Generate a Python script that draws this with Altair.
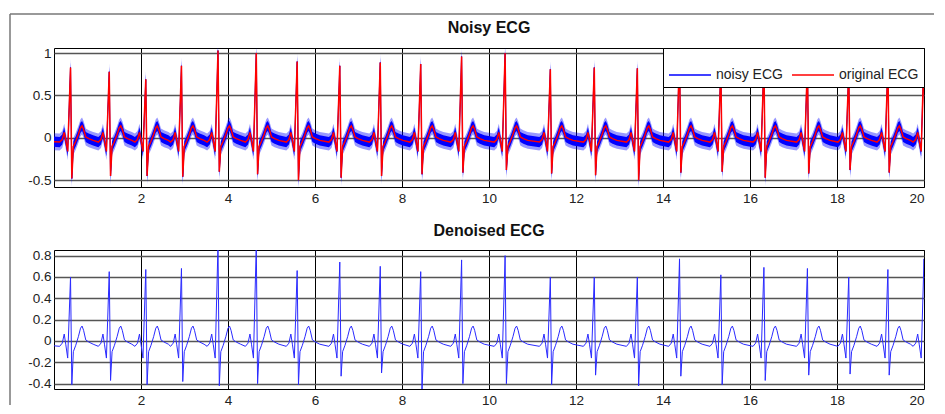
import altair as alt
import pandas as pd

# ---- values ----
beat_t = [0.38, 1.27, 2.11, 2.93, 3.77, 4.65, 5.59, 6.57, 7.50, 8.43, 9.37,
          10.37, 11.41, 12.42, 13.41, 14.38, 15.33, 16.32, 17.32, 18.27, 19.17, 20.0]
orig_R = [0.83, 0.78, 0.69, 0.85, 1.03, 1.00, 0.90, 0.85, 0.89, 0.87, 0.96,
          1.00, 0.81, 0.83, 0.82, 1.00, 0.82, 0.90, 0.88, 0.80, 0.88, 1.00]
orig_S = [-0.48, -0.45, -0.45, -0.46, -0.40, -0.43, -0.50, -0.47, -0.45, -0.43, -0.41,
          -0.38, -0.42, -0.44, -0.50, -0.41, -0.40, -0.47, -0.42, -0.38, -0.41, -0.40]
den_R = [0.60, 0.65, 0.67, 0.68, 0.90, 0.90, 0.66, 0.74, 0.70, 0.65, 0.76,
         0.80, 0.60, 0.60, 0.60, 0.77, 0.62, 0.69, 0.68, 0.60, 0.67, 0.77]
den_S = [-0.41, -0.37, -0.41, -0.38, -0.42, -0.40, -0.41, -0.33, -0.30, -0.46, -0.40,
         -0.40, -0.41, -0.32, -0.42, -0.33, -0.41, -0.37, -0.32, -0.31, -0.32, -0.30]

# one-beat shape (seconds from the R peak, value); "R"/"S" take the per-beat values
tpl_dt = [-0.25, -0.19, -0.145, -0.11, -0.065, 0.0, 0.03, 0.065, 0.12, 0.18,
          0.23, 0.265, 0.30, 0.35, 0.42, 0.52]
tpl_v = [-0.05, -0.02, 0.065, -0.03, -0.16, "R", "S", -0.10, -0.04, 0.04,
         0.12, 0.14, 0.10, 0.01, -0.01, -0.03]
lead_in = [(0.0, -0.045)]

noise_inner = 0.06
noise_outer = 0.10

x_ticks = [2, 4, 6, 8, 10, 12, 14, 16, 18, 20]
top_ticks = [-0.5, 0, 0.5, 1]
bot_ticks = [-0.4, -0.2, 0, 0.2, 0.4, 0.6, 0.8]
series_names = ["noisy ECG", "original ECG"]
series_colors = ["#0000ff", "#ff0000"]


def build(R, S):
    pts = list(lead_in)
    for bt, r, s in zip(beat_t, R, S):
        for dt, v in zip(tpl_dt, tpl_v):
            val = r if v == "R" else (s if v == "S" else v)
            pts.append((round(bt + dt, 4), val))
    return pd.DataFrame(pts, columns=["t", "v"])


orig = build(orig_R, orig_S)
orig["lo1"] = orig["v"] - noise_inner
orig["hi1"] = orig["v"] + noise_inner
orig["lo2"] = orig["v"] - noise_outer
orig["hi2"] = orig["v"] + noise_outer
noisy_line = orig.assign(series="noisy ECG")
orig_line = orig.assign(series="original ECG")
den = build(den_R, den_S)

FONT = "Liberation Sans"
minus_expr = "datum.value < 0 ? '-' + (-datum.value) : '' + datum.value"

xs = alt.Scale(domain=[0, 20], nice=False, zero=False)
xax = alt.Axis(values=x_ticks, title=None, grid=True, gridColor="#000000",
               gridWidth=1, ticks=False, labelPadding=4, domain=False,
               labelFontSize=13.5, labelFont=FONT, labelColor="#222")


def yax(vals):
    return alt.Axis(values=vals, title=None, grid=True, gridColor="#555555",
                    gridWidth=1.4, ticks=False, labelPadding=3, domain=False,
                    labelFontSize=13.5, labelFont=FONT, labelColor="#222",
                    labelExpr=minus_expr)


ys_top = alt.Scale(domain=[-0.58, 1.06], nice=False, zero=False)
ys_bot = alt.Scale(domain=[-0.45, 0.853], nice=False, zero=False)
cscale = alt.Scale(domain=series_names, range=series_colors)
legend = alt.Legend(title=None, orient="top-right", offset=0, direction="horizontal",
                    fillColor="white", strokeColor="black", padding=5,
                    symbolType="stroke", symbolSize=1764, symbolStrokeWidth=1.3,
                    labelFontSize=14, labelFont=FONT, labelColor="#222",
                    labelOffset=4, columnPadding=6)

base = alt.Chart(orig)
outer = base.mark_area(color="#0000ff", opacity=0.4, clip=True).encode(
    x=alt.X("t:Q", scale=xs, axis=xax),
    y=alt.Y("lo2:Q", scale=ys_top, axis=yax(top_ticks)),
    y2="hi2:Q")
inner = base.mark_area(color="#0000ff", opacity=1, clip=True).encode(
    x="t:Q", y="lo1:Q", y2="hi1:Q")
nline = alt.Chart(noisy_line).mark_line(strokeWidth=1, clip=True).encode(
    x="t:Q", y="v:Q",
    color=alt.Color("series:N", scale=cscale, legend=legend))
rline = alt.Chart(orig_line).mark_line(strokeWidth=1.5, clip=True).encode(
    x="t:Q", y="v:Q",
    color=alt.Color("series:N", scale=cscale, legend=legend))

top = alt.layer(outer, inner, nline, rline).properties(
    width=870, height=139,
    title=alt.TitleParams("Noisy ECG", fontSize=16, fontWeight="bold", font=FONT,
                          offset=10, anchor="middle", color="#111"))

bottom = alt.Chart(den).mark_line(color="#2a2aff", strokeWidth=1, clip=True).encode(
    x=alt.X("t:Q", scale=xs, axis=xax),
    y=alt.Y("v:Q", scale=ys_bot, axis=yax(bot_ticks))
).properties(
    width=870, height=139,
    title=alt.TitleParams("Denoised ECG", fontSize=16, fontWeight="bold", font=FONT,
                          offset=10, anchor="middle", color="#111"))

# figure frame (decoration, top and left edges)
fdf = pd.DataFrame({"k": [0]})
frame_top = alt.Chart(fdf).mark_rule(color="#777", strokeWidth=1.5, clip=False).encode(
    x=alt.value(-44), x2=alt.value(880), y=alt.value(0))
frame_left = alt.Chart(fdf).mark_rule(color="#777", strokeWidth=1.5, clip=False).encode(
    x=alt.value(-44), y=alt.value(0), y2=alt.value(391))
frame = alt.layer(frame_top, frame_left).properties(
    width=870, height=1, view=alt.ViewConfig(stroke=None))

panels = alt.vconcat(top, bottom, spacing=63, bounds="flush").resolve_scale(
    color="independent").resolve_legend(color="independent")
chart = alt.vconcat(frame, panels, spacing=33, bounds="flush").properties(
    padding={"left": 1, "top": 5, "right": 0, "bottom": 0}
).configure_view(stroke="#000000", strokeWidth=1).resolve_scale(
    color="independent").resolve_legend(color="independent")

chart.save("out.html", embed_options={"renderer": "svg", "actions": False})
